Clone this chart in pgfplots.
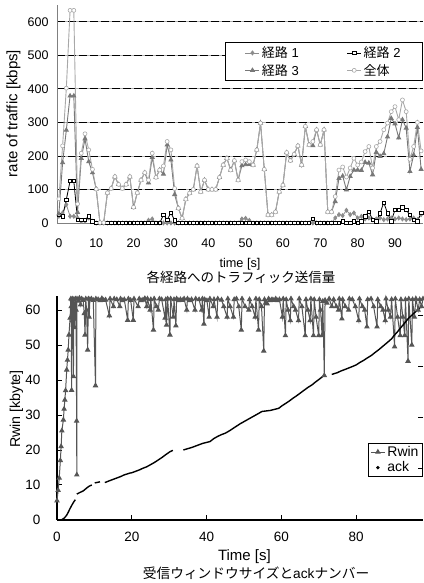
\documentclass[border=0pt]{standalone}
\usepackage{fontspec}
\setmainfont{Liberation Sans}
\newfontfamily\jp{Noto Sans CJK JP}
\usepackage{pgfplots}
\pgfplotsset{compat=1.18}
\usepackage{pgfplotstable}

\definecolor{routeA}{HTML}{8C8C8C}
\definecolor{routeC}{HTML}{787878}
\definecolor{total}{HTML}{A8A8A8}
\definecolor{rwin}{HTML}{555555}

% t = time [s], T = total, A = route 1, B = route 2, C = route 3 (kbps)
\pgfplotstableread{
t T A B C
0 72 20 25 27
1 230 30 20 180
2 402 55 70 277
3 634 20 125 379
4 634 20 125 379
5 57 15 10 32
6 208 5 10 193
7 266 5 10 251
8 218 15 20 183
9 160 5 5 150
10 101 0 0 101
11 1 0 0 1
12 1 0 0 1
13 90 0 0 90
14 103 0 0 103
15 138 0 0 138
16 115 0 0 115
17 103 0 0 103
18 115 0 0 115
19 138 0 0 138
20 47 0 0 47
21 90 0 0 90
22 128 0 0 128
23 150 0 0 150
24 128 8 0 120
25 208 12 0 196
26 136 0 0 136
27 158 0 0 158
28 170 0 24 146
29 243 0 10 233
30 218 0 30 188
31 103 0 8 85
32 44 0 0 44
33 14 0 0 14
34 71 0 0 71
35 89 0 0 89
36 100 0 0 100
37 170 0 0 170
38 93 0 0 93
39 128 0 0 128
40 100 0 0 100
41 100 0 0 100
42 100 0 0 100
43 136 0 0 136
44 173 0 0 173
45 193 0 0 193
46 158 0 0 158
47 186 0 0 186
48 128 0 0 128
49 183 12 0 171
50 188 14 0 174
51 183 8 0 175
52 173 0 0 173
53 218 0 0 218
54 298 0 0 298
55 160 0 0 160
56 24 0 0 24
57 24 0 0 24
58 33 0 0 33
59 93 0 0 93
60 113 0 0 113
61 210 0 0 210
62 186 0 0 186
63 205 0 0 205
64 230 0 0 230
65 173 0 0 173
66 288 0 0 288
67 233 0 0 233
68 243 0 12 231
69 278 0 0 278
70 233 0 0 233
71 278 0 0 278
72 33 0 0 33
73 33 0 0 33
74 79 15 0 64
75 158 25 0 133
76 167 22 5 140
77 137 38 0 99
78 164 25 0 139
79 193 30 5 158
80 173 15 0 158
81 182 20 5 157
82 213 12 20 181
83 228 15 34 179
84 164 10 10 144
85 228 12 5 211
86 243 15 29 199
87 278 10 61 207
88 298 12 29 257
89 332 15 5 312
90 347 12 39 296
91 308 15 39 254
92 367 12 47 308
93 332 10 39 283
94 190 12 24 154
95 228 15 10 203
96 300 10 5 285
97 215 25 30 160
}\traffic

\pgfplotsset{
  legend image code/.code={%
    \draw[mark repeat=2,mark phase=2,#1] plot coordinates {(0pt,0pt) (7pt,0pt) (14pt,0pt)};},
}

\begin{document}
\begin{tikzpicture}
\useasboundingbox (0,0) rectangle (423pt,583pt);

% ---- traffic per route ----
\begin{axis}[
  at={(57pt,360pt)}, anchor=south west, scale only axis,
  width=366pt, height=218pt,
  xmin=-0.5, xmax=97.5, ymin=0, ymax=650,
  axis x line=bottom, axis y line=left,
  axis line style={-, draw=gray, line width=0.8pt},
  xtick={0,10,...,90},
  ytick={100,200,...,600},
  extra y ticks={0}, extra y tick style={grid=none},
  ymajorgrids,
  major grid style={draw=gray!60, line width=0.8pt,
    postaction={draw=black, dash pattern=on 8pt off 3pt}},
  major tick length=0pt,
  tick label style={font=\fontsize{12.5}{14}\selectfont},
  /pgf/number format/assume math mode=true,
  yticklabel style={xshift=-5pt},
  xticklabel style={yshift=-12pt},
  xlabel={time [s]},
  xlabel style={at={(axis description cs:0.5,-0.19)}, anchor=center,
    font=\fontsize{12.7}{14}\selectfont},
  ylabel={rate of traffic [kbps]},
  ylabel style={at={(axis description cs:-0.119,0.502)}, anchor=center,
    font=\fontsize{15}{17}\selectfont},
  clip=false,
  legend columns=2,
  legend cell align=left,
  legend style={at={(1,0.651)}, anchor=south east, draw=black, line width=1pt,
    inner xsep=20pt, inner ysep=2pt, row sep=1pt,
    font=\fontsize{13}{15}\selectfont,
    /tikz/every even column/.append style={column sep=46pt}},
]
\addplot[routeA, line width=0.8pt, mark=diamond*, mark size=2pt,
  mark options={solid, fill=routeA}] table[x=t, y=A]{\traffic};
\addplot[black, line width=0.8pt, mark=square*, mark size=1.7pt,
  mark options={solid, fill=white, line width=0.6pt}] table[x=t, y=B]{\traffic};
\addplot[routeC, line width=0.9pt, mark=triangle*, mark size=2.2pt,
  mark options={solid, fill=routeC}] table[x=t, y=C]{\traffic};
\addplot[total, line width=0.9pt, mark=*, mark size=2pt,
  mark options={solid, fill=white, draw=total, line width=0.6pt}] table[x=t, y=T]{\traffic};
\legend{{\jp 経路} 1, {\jp 経路} 2, {\jp 経路} 3, {\jp 全体}}
\node[font=\jp\fontsize{13.5}{15}\selectfont] at (axis description cs:0.503,-0.248)
  {各経路へのトラフィック送信量};
\end{axis}

% ---- receive window and ack number ----
\begin{axis}[
  at={(57pt,63pt)}, anchor=south west, scale only axis,
  width=366pt, height=224pt,
  xmin=0, xmax=97.9, ymin=0, ymax=64,
  axis x line=bottom, axis y line=left,
  axis line style={-, draw=black, line width=1.5pt},
  xtick={0,20,...,80}, ytick={0,10,...,60},
  tick align=inside, major tick length=5pt,
  tick style={black, line width=1pt},
  tick label style={font=\fontsize{13.5}{15}\selectfont},
  /pgf/number format/assume math mode=true,
  yticklabel style={xshift=-13pt},
  xticklabel style={yshift=-9pt},
  xlabel={Time [s]},
  xlabel style={at={(axis description cs:0.512,-0.165)}, anchor=center,
    font=\fontsize{15}{17}\selectfont},
  ylabel={Rwin [kbyte]},
  ylabel style={at={(axis description cs:-0.111,0.4955)}, anchor=center,
    font=\fontsize{14.3}{16}\selectfont},
  unbounded coords=jump,
  clip=false,
  legend cell align=left,
  legend style={at={(1,0.192)}, anchor=south east, draw=black, line width=1pt,
    inner xsep=2pt, inner ysep=1pt, row sep=0pt,
    font=\fontsize{14}{16}\selectfont},
]
\addplot[rwin, line width=1pt, mark=triangle*, mark size=2.3pt,
  mark options={solid, fill=rwin}] coordinates {
(0,5.5) (0.3,8.5) (0.6,12) (0.9,17) (1.1,21) (1.3,25.5) (1.7,28.6) (1.9,31.7)
(2.1,34.3) (2.3,37) (2.6,42.9) (2.8,45.7) (3.0,48.6) (3.2,52.9) (3.5,57.7)
(3.7,63.2) (3.8,61) (3.9,37.1) (4.0,63) (4.1,57) (4.2,63.2) (4.4,41) (4.5,63)
(4.7,55) (4.9,63.2) (5.1,60) (5.25,28.3) (5.3,12.9) (5.35,63.2) (5.7,62.6)
(6.0,63.4) (6.3,61.5) (6.6,63.2) (7.0,62.8) (7.3,59) (7.5,52.9) (7.7,63.2)
(7.9,60) (8.2,48.6) (8.4,63.2) (8.6,58) (8.8,63) (9.2,63.2) (9.7,62.8)
(10.3,38.4) (10.4,63.2) (11,63) (11.5,62.7) (12,63.3) (12.5,62.8) (13,62.9)
(14.0,58.4) (14.2,63.2) (15.1,61) (15.3,63.2) (16,63) (16.8,61) (17,63.2)
(17.5,62.7) (18,63) (18.9,57.1) (19.1,63.2) (19.7,62.8) (20.4,57.1) (20.6,63.2)
(21.7,61) (22,63.2) (22.5,62.7) (23,62.9) (23.5,63.3) (24.0,61)
(24.2,63.2) (24.9,60) (25.1,63) (25.8,54.3) (26,63.2) (26.6,61) (27.1,60)
(27.4,63.2) (28,63) (28.9,57.7) (29.1,63) (29.3,55.7) (29.6,63.2) (30.2,52.9)
(30.4,63.2) (31.1,58) (31.3,63) (31.8,55.5) (32,63.2) (32.5,62.7) (33,63)
(33.5,62.8) (34,63.2) (34.7,60) (34.9,63.2) (35.5,62.7) (36,63) (36.9,60)
(37.1,63.2) (38,63) (38.7,60) (38.9,63.2) (39.3,56) (39.5,63) (40.1,62.7)
(40.7,58) (40.9,63.2) (41.8,61) (42,63)
(42.8,58) (43,63.2) (44,62.9) (44.6,61) (45.5,58) (45.7,63.2) (46.3,61)
(47.2,58) (47.4,63) (48,63.2) (48.6,61) (49.3,54.3) (49.5,63.2) (50.3,61)
(51.3,60) (51.5,63) (52.2,61) (53.0,58) (53.2,63.2) (53.9,54.3) (54.1,63)
(54.7,61) (55.3,48.3) (55.5,63) (55.8,62) (56.2,61.8) (56.6,63.2) (57,62.7)
(57.5,63) (58,62.8) (58.5,63.2) (59,62.7) (59.5,63) (60.3,58) (60.5,63.2)
(61.1,52.7) (61.3,63) (61.8,60)
(62.4,57) (62.6,63.2) (63.3,61) (63.8,60) (64.6,57) (64.8,63.2) (65.5,61)
(66.4,52.7) (66.6,63) (67.1,60) (67.7,57) (67.9,63.2) (68.6,52.7) (68.8,63)
(69.3,58) (70.0,52.7) (70.2,63) (70.5,60) (70.9,52.7) (71.1,62.5) (71.5,41.3)
(71.7,62.8) (72.2,62) (72.8,63.2) (73.5,61) (74,63) (74.7,61) (75.3,60)
(75.5,63.2) (76.2,57.5) (76.4,63) (77.1,61) (78.0,60) (78.2,63.2) (79,63)
(79.8,61) (80.7,57) (80.9,63.2) (81.7,61) (82.3,60) (82.9,55.2) (83.1,63)
(84,63.2) (84.7,61) (85.6,55.2) (85.8,63) (86.6,61) (87.2,60) (87.8,57)
(88,63.2) (88.6,60) (89.2,58) (89.5,63) (90.3,49.5) (90.5,63.2) (91.1,58)
(91.8,52.7) (92,63) (92.5,58) (93.0,52.7) (93.2,63) (93.9,45.4) (94.1,63.2)
(94.9,50) (95.1,63) (95.6,58) (96,63.2) (96.6,60) (97,63) (97.5,61) (97.9,63.2)
};
\addplot[black, line width=1.4pt,
  legend image code/.code={\fill[black] (7pt,0pt) circle (0.9pt);}] coordinates {
(0,0) (1,0) (1.3,0.1) (2,0.6) (2.6,1.4) (3,2.2) (3.5,3.3) (4,4.3) (4.5,5.2)
(4.9,5.8) (5.1,nan) (5.3,7.4) (6,7.8) (7,8.3) (7.9,9.1) (8.5,9.6) (9.3,10)
(9.7,nan) (10.1,10.6) (11.5,10.9) (12.2,nan) (12.8,10.7) (14,11.2) (15,11.6)
(16,12.0) (17,12.4) (18,12.9) (19.5,13.4) (20,13.5) (21,13.9) (22,14.3)
(23,14.8) (24,15.2) (25,15.8) (26,16.4) (27,17.1) (28,17.8) (29,18.6)
(30.2,19.5) (31,19.9) (32.4,nan) (33.8,20.0) (35,20.4) (36,20.7) (37,21.1)
(38,21.5) (39,21.9) (40.9,22.4) (42,23.3) (43,23.9) (44,24.4) (45,24.8)
(46,25.4) (47,26.1) (48,26.8) (49,27.5) (50,28.1) (51,28.7) (52,29.3)
(53,29.9) (54,30.5) (54.8,31) (55.5,31.1) (57,31.3) (59.3,31.9) (60,32.5)
(61,33.2) (62,33.9) (63,34.7) (63.7,35.2) (65,36.2) (66,37) (67,37.8)
(68.2,38.6) (69,39.3) (70,40.1) (71.3,41.2) (72.4,nan) (73.5,41.6) (75,42.1)
(76,42.6) (77,43) (78.9,43.8) (80,44.3) (81,45) (82,45.6) (83,46.3)
(84.2,47.1) (85,47.8) (86,48.6) (87,49.5) (88,50.4) (89,51.3) (89.6,51.9)
(90,52.5) (91,53.7) (92,55) (93,56.3) (94,57.6) (95,58.6) (96,59.6) (97,60.6)
(97.6,61.2)
};
\legend{Rwin, ack}
\node[font=\fontsize{13.7}{15}\selectfont] at (axis description cs:0.544,-0.237)
  {{\jp 受信ウィンドウサイズと}ack{\jp ナンバー}};
\end{axis}

% ticks of the right-hand scale
\begin{axis}[
  at={(57pt,63pt)}, anchor=south west, scale only axis,
  width=366pt, height=224pt,
  xmin=0, xmax=97.9, ymin=0, ymax=64,
  axis x line=none, axis y line*=right,
  y axis line style={draw=none},
  ytick={14.6,29.2,43.8,58.4}, yticklabels={},
  tick align=inside, major tick length=5pt,
  tick style={black, line width=1pt},
]
\addplot[draw=none] coordinates {(0,0)};
\end{axis}
\end{tikzpicture}
\end{document}
